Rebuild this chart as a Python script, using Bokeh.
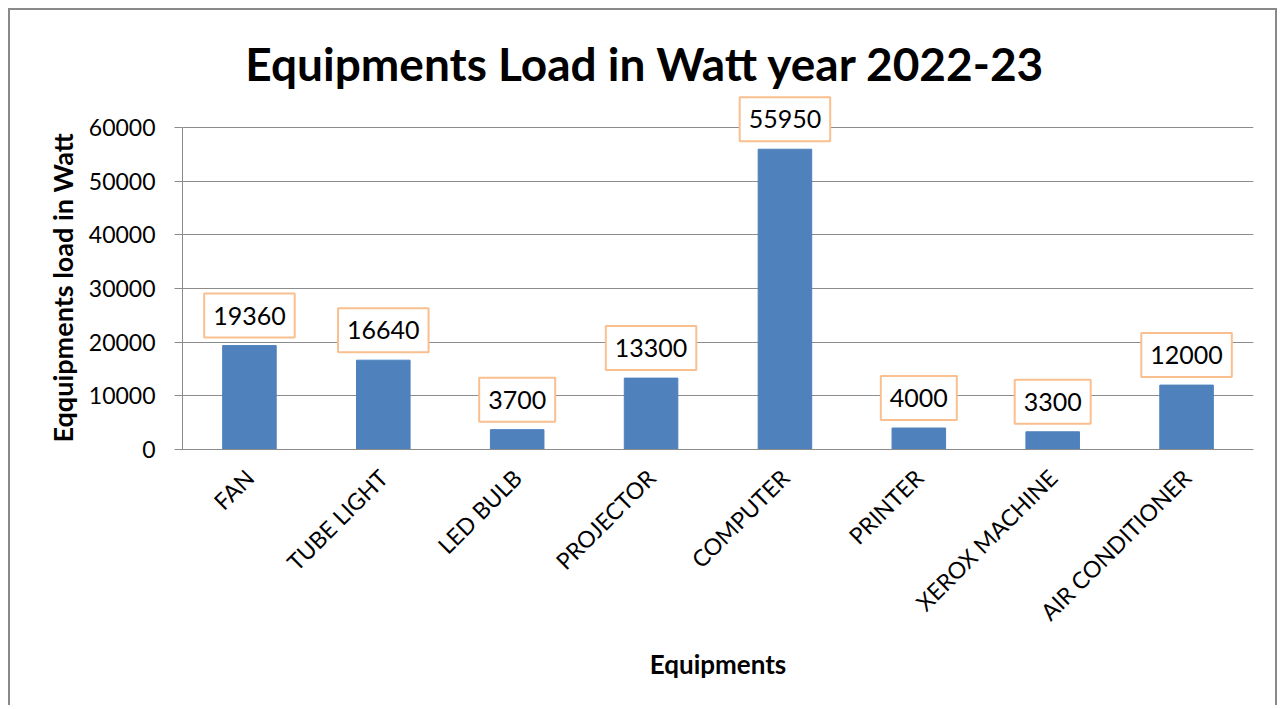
import math
from bokeh.plotting import figure
from bokeh.models import Range1d, FixedTicker, Label, Title
from bokeh.embed import file_html
from bokeh.resources import INLINE

categories = ["FAN", "TUBE LIGHT", "LED BULB", "PROJECTOR", "COMPUTER",
              "PRINTER", "XEROX MACHINE", "AIR CONDITIONER"]
loads = [19360, 16640, 3700, 13300, 55950, 4000, 3300, 12000]
y_ticks = [0, 10000, 20000, 30000, 40000, 50000, 60000]
title_text = "Equipments Load in Watt year 2022-23"
x_title = "Equipments"
y_title = "Eqquipments load in Watt"

FONT = "Lato"
GRID = "#8C8C8C"

positions = list(range(len(categories)))
y_top = y_ticks[-1]

# the range reaches above the top tick so that the data labels and the title are not clipped
p = figure(width=1269, height=697, output_backend="svg", toolbar_location=None,
           x_range=Range1d(-0.5, len(categories) - 0.5), y_range=Range1d(0, 81800),
           min_border_left=172, min_border_right=26, min_border_top=0,
           min_border_bottom=258)
p.outline_line_color = None
p.styles = {"margin-left": "8px", "margin-top": "8px",
            "border-top": "2px solid #898989", "border-left": "2px solid #898989",
            "border-right": "2px solid #898989"}

p.vbar(x=positions, top=loads, width=0.4, color="#4F81BD")

p.xgrid.visible = False
p.ygrid.ticker = FixedTicker(ticks=y_ticks)
p.ygrid.grid_line_color = GRID
p.ygrid.grid_line_width = 1

ya = p.yaxis[0]
ya.ticker = FixedTicker(ticks=y_ticks)
ya.bounds = (0, y_top)
ya.axis_line_color = GRID
ya.major_tick_line_color = GRID
ya.major_tick_out = 8
ya.major_tick_in = 0
ya.minor_tick_line_color = None
ya.major_label_text_font = FONT
ya.major_label_text_font_size = "23px"
ya.major_label_text_color = "#000000"
ya.major_label_standoff = 19

# y-axis title, set beside the axis and started near the bottom of the tick span
p.add_layout(Title(text=y_title, align="left", offset=7, standoff=14,
                   text_font=FONT, text_font_style="bold", text_font_size="27px",
                   text_color="#000000"), "left")

xa = p.xaxis[0]
xa.ticker = FixedTicker(ticks=positions)
xa.major_label_overrides = {i: c for i, c in zip(positions, categories)}
xa.axis_line_color = GRID
xa.major_tick_line_color = None
xa.minor_tick_line_color = None
xa.major_label_orientation = math.pi / 4
xa.major_label_text_font = FONT
xa.major_label_text_font_size = "23px"
xa.major_label_text_color = "#000000"
xa.major_label_standoff = 18
xa.axis_label = x_title
xa.axis_label_text_font = FONT
xa.axis_label_text_font_style = "bold"
xa.axis_label_text_font_size = "26px"
xa.axis_label_text_color = "#000000"
xa.axis_label_standoff = 10

for x, v in zip(positions, loads):
    p.add_layout(Label(x=x, y=v, text=str(v), y_offset=8,
                       text_align="center", text_baseline="bottom",
                       text_font=FONT, text_font_size="25px", text_color="#000000",
                       border_line_color="#F9BF8F", border_line_width=2,
                       background_fill_color="white", padding=(9, 13)))

p.add_layout(Label(x=p.x_range.start, y=y_top, x_offset=463, y_offset=64,
                   text=title_text, text_align="center", text_baseline="middle",
                   text_font=FONT, text_font_style="bold", text_font_size="46px",
                   text_color="#000000"))

open("out.html", "w").write(file_html(p, INLINE))
